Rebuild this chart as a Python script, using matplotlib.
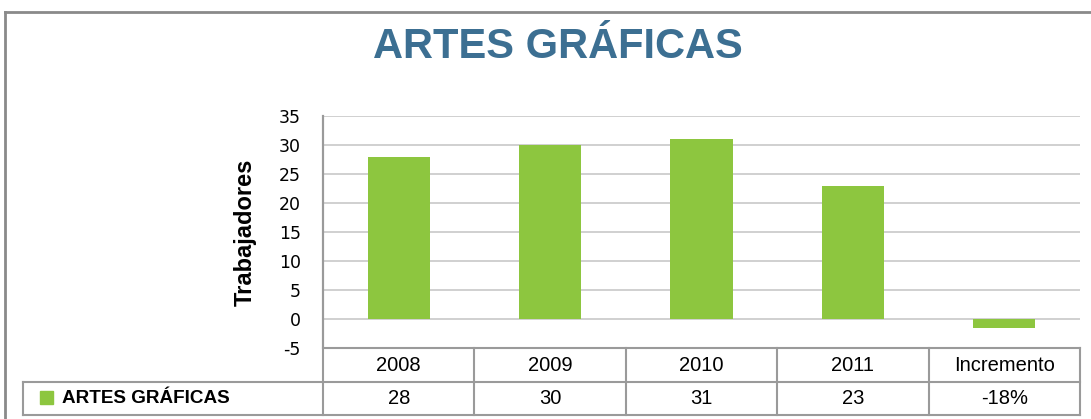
import matplotlib.pyplot as plt
from matplotlib.lines import Line2D
from matplotlib.patches import Rectangle
import matplotlib.transforms as mtransforms

# data
categories = ['2008', '2009', '2010', '2011', 'Incremento']
values = [28, 30, 31, 23, -1.6]
table_labels = ['28', '30', '31', '23', '-18%']
series_name = 'ARTES GRÁFICAS'
yticks = [-5, 0, 5, 10, 15, 20, 25, 30, 35]

green = '#8dc63f'
grid_c = '#c8c8c8'
line_c = '#9a9a9a'

W, H = 1091, 419
fig = plt.figure(figsize=(W / 100, H / 100), dpi=100)

# outer frame (grey border, right edge runs off the picture)
fig.add_artist(Line2D([5 / W, 5 / W], [0, 1 - 12 / H], color='#8a8a8a', lw=2))
fig.add_artist(Line2D([5 / W, 1.0], [1 - 12 / H, 1 - 12 / H], color='#8a8a8a', lw=2))

fig.text(558 / W, 1 - 47 / H, 'ARTES GRÁFICAS', ha='center', va='center',
         fontsize=30, fontweight='bold', color='#3c6f92',
         family=['Liberation Sans Narrow', 'Liberation Sans'])

left, right, top, bottom = 323, 1080, 116, 348
ax = fig.add_axes([left / W, 1 - bottom / H, (right - left) / W, (bottom - top) / H])

x = range(len(categories))
ax.bar(x, values, width=0.41, color=green, zorder=2)
ax.set_xlim(-0.5, len(categories) - 0.5)
ax.set_ylim(-5, 35)
ax.set_yticks(yticks)
ax.set_yticklabels([str(v) for v in yticks], fontsize=12.5, family='DejaVu Sans')
ax.tick_params(axis='y', length=0, pad=16)
ax.set_xticks([])
for v in yticks[1:]:
    ax.axhline(v, color=grid_c, lw=1.2, zorder=1)
for s in ['top', 'right', 'bottom']:
    ax.spines[s].set_visible(False)
ax.spines['left'].set_color(line_c)
ax.spines['left'].set_linewidth(1.5)

ax.set_ylabel('Trabajadores', fontsize=17, fontweight='bold', family='Liberation Sans', labelpad=16)

# data table under the plot
trans = mtransforms.blended_transform_factory(ax.transData, ax.transAxes)
ph = bottom - top
r1 = -(382 - bottom) / ph
r2 = -(415 - bottom) / ph
x_leg = -0.5 - (left - 23) / ((right - left) / len(categories))
n = len(categories)
kw = dict(color=line_c, lw=1.5, transform=trans, clip_on=False)
ax.add_line(Line2D([-0.5, n - 0.5], [0, 0], **kw))
ax.add_line(Line2D([x_leg, n - 0.5], [r1, r1], **kw))
ax.add_line(Line2D([x_leg, n - 0.5], [r2, r2], **kw))
ax.add_line(Line2D([x_leg, x_leg], [r1, r2], **kw))
for i in range(n + 1):
    ax.add_line(Line2D([i - 0.5, i - 0.5], [1, r2] if i == 0 else [0, r2], **kw))

for i, (c, t) in enumerate(zip(categories, table_labels)):
    ax.text(i, r1 / 2, c, transform=trans, ha='center', va='center', fontsize=14.5,
            family='Liberation Sans')
    ax.text(i, (r1 + r2) / 2, t, transform=trans, ha='center', va='center', fontsize=14.5,
            family='Liberation Sans')

fig.add_artist(Rectangle((40 / W, 1 - 404 / H), 13 / W, 13 / H, color=green))
fig.text(62 / W, 1 - 398.5 / H, series_name, ha='left', va='center', fontsize=13.6,
         fontweight='bold', family='Liberation Sans')

fig.savefig('out.png', dpi=100)
